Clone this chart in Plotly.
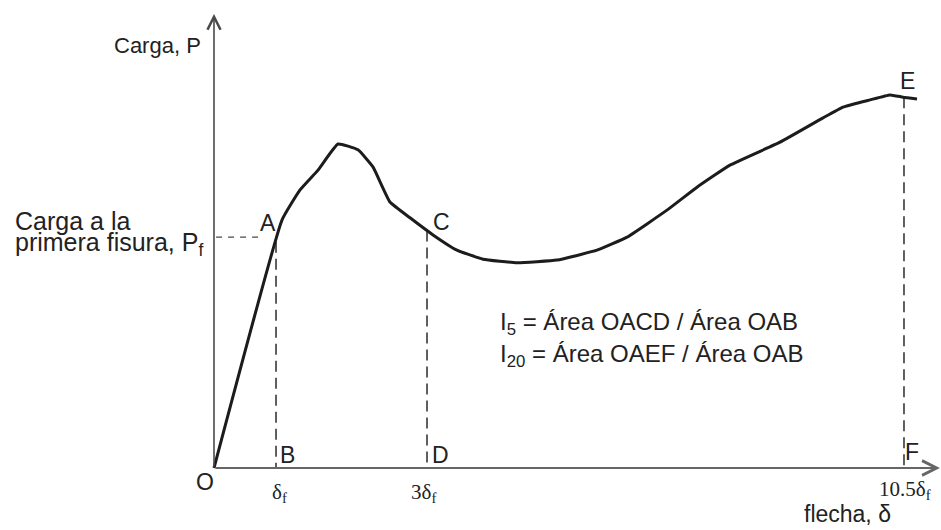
import numpy as np
import plotly.graph_objects as go

# Load-deflection curve (schematic units: deflection along x, load along y)
deflection = [0.0, 9.71, 12.29, 14.86, 17.71, 20.57, 22.71, 25.14, 28.0, 31.29,
              34.71, 38.43, 43.29, 49.0, 54.71, 59.0, 64.71, 69.0, 73.71, 80.86,
              87.0, 89.86, 93.71, 96.57, 98.43, 100.43]
load = [0.0, 55.1, 61.8, 66.2, 72.0, 70.7, 66.9, 59.1, 55.6, 51.8,
        48.4, 46.4, 45.6, 46.2, 48.4, 51.3, 57.3, 62.4, 67.3, 72.4,
        77.8, 80.2, 81.8, 82.9, 82.4, 82.0]

# Deflection marks: δf, 3δf, 10.5δf
tick_pos = [8.86, 30.43, 98.57]
tick_text = ["δ<sub>f</sub>", "3δ<sub>f</sub>", "10.5δ<sub>f</sub>"]
foot_labels = ["B", "D", "F"]

# First-crack load level
first_crack_load = 51.3

# Axis extents
x_axis_end = 103.7
y_axis_end = 100.9

INK = "#1c1c1c"
AXIS = "#4a4a4a"
SANS = "Liberation Sans, Arial, sans-serif"
SERIF = "Liberation Serif, Times New Roman, serif"

fig = go.Figure()

# Dashed verticals from the curve down to the deflection axis
for xp in tick_pos:
    ytop = float(np.interp(xp, deflection, load))
    fig.add_trace(go.Scatter(
        x=[xp, xp], y=[ytop, 0], mode="lines",
        line=dict(color=INK, width=1.4, dash="11px,6px"),
        hoverinfo="skip", showlegend=False))

# Dashed marker for the first-crack load
fig.add_trace(go.Scatter(
    x=[0.3, 6.3], y=[first_crack_load, first_crack_load], mode="lines",
    line=dict(color=AXIS, width=1.2, dash="6px,6px"),
    hoverinfo="skip", showlegend=False))

# Load-deflection curve
fig.add_trace(go.Scatter(
    x=deflection, y=load, mode="lines",
    line=dict(color=INK, width=3, shape="spline", smoothing=0.35),
    hoverinfo="skip", showlegend=False))

annotations = []

# Axes drawn as arrows
annotations.append(dict(x=0, y=y_axis_end, ax=0, ay=0, xref="x", yref="y",
                        axref="x", ayref="y", text="", showarrow=True,
                        arrowhead=5, arrowsize=1.6, arrowwidth=1.6,
                        arrowcolor=AXIS))
annotations.append(dict(x=x_axis_end, y=0, ax=0, ay=0, xref="x", yref="y",
                        axref="x", ayref="y", text="", showarrow=True,
                        arrowhead=5, arrowsize=1.6, arrowwidth=1.8,
                        arrowcolor="#666666"))

def label(x, y, text, size=22, font=SANS, xanchor="center", yanchor="middle"):
    annotations.append(dict(x=x, y=y, xref="x", yref="y", text=text,
                            showarrow=False, xanchor=xanchor, yanchor=yanchor,
                            font=dict(family=font, size=size, color="#222222")))

# Axis titles
label(-1.57, 94.0, "Carga, P", size=22, xanchor="right")
label(90.57, -10.2, "flecha, δ", size=23)
label(-28.7, 54.8, "Carga a la", size=25, xanchor="left")
label(-28.7, 49.7, "primera fisura, P<sub>f</sub>", size=25, xanchor="left")

# Point labels
label(-1.29, -3.1, "O", size=23)
label(7.71, 54.4, "A", size=23)
label(32.43, 54.7, "C", size=23)
label(99.14, 86.0, "E", size=23)
foot_offsets = [1.71, 1.86, 1.14]
foot_heights = [2.9, 2.9, 3.6]
for xp, name, dx, yy in zip(tick_pos, foot_labels, foot_offsets, foot_heights):
    label(xp + dx, yy, name, size=23)

# Deflection tick labels
tick_offsets = [0.43, -0.57, 0.14]
tick_heights = [-5.6, -5.6, -4.9]
for xp, txt, dx, yy in zip(tick_pos, tick_text, tick_offsets, tick_heights):
    label(xp + dx, yy, txt, size=21, font=SERIF)

# Toughness index definitions
label(40.57, 32.1, "I<sub>5</sub> = Área OACD / Área OAB", size=24, xanchor="left")
label(40.57, 25.0, "I<sub>20</sub> = Área OAEF / Área OAB", size=24, xanchor="left")

fig.update_layout(
    width=941, height=530,
    margin=dict(l=0, r=0, t=0, b=0),
    paper_bgcolor="white", plot_bgcolor="white",
    xaxis=dict(range=[-214 / 7, 727 / 7], visible=False, fixedrange=True),
    yaxis=dict(range=[-62 / 4.5, 468 / 4.5], visible=False, fixedrange=True),
    annotations=annotations,
)

fig.write_html("out.html")
